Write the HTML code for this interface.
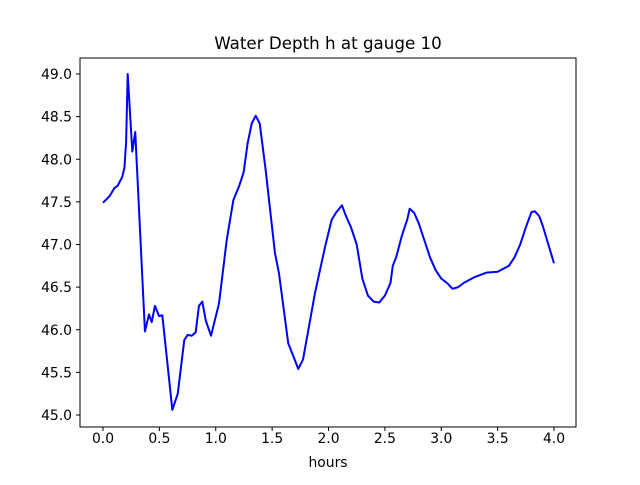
<!DOCTYPE html>
<html><head><meta charset="utf-8"><style>
body{margin:0;background:#fff}
svg{font-family:"DejaVu Sans","Liberation Sans",sans-serif}
</style></head><body>
<svg width="640" height="480" id="c">
<rect width="640" height="480" fill="#fff"/>
<text x="328" y="49" font-size="16.7" text-anchor="middle">Water Depth h at gauge 10</text>
<text x="328" y="467" font-size="13.9" text-anchor="middle">hours</text>
<g id="ticks"></g>
<polyline id="line" fill="none" stroke="#0000ff" stroke-width="2" stroke-linejoin="round"/>
<rect x="80" y="58" width="496" height="369" fill="none" stroke="#000" stroke-width="1"/>
</svg>
<script>
const hours=[0,0.06,0.1,0.13,0.17,0.19,0.205,0.219,0.26,0.286,0.372,0.408,0.432,0.461,0.497,0.526,0.615,0.663,0.721,0.751,0.787,0.822,0.851,0.881,0.911,0.958,1.029,1.097,1.156,1.206,1.248,1.283,1.319,1.354,1.39,1.443,1.525,1.561,1.643,1.694,1.732,1.774,1.88,1.969,2.028,2.07,2.12,2.15,2.2,2.25,2.3,2.35,2.4,2.45,2.5,2.55,2.57,2.6,2.65,2.7,2.72,2.76,2.8,2.85,2.9,2.95,3.0,3.05,3.1,3.15,3.2,3.3,3.4,3.5,3.6,3.65,3.7,3.75,3.8,3.83,3.87,3.9,3.95,4.0];
const depth=[47.49,47.57,47.66,47.69,47.79,47.9,48.2,49.0,48.09,48.32,45.98,46.18,46.09,46.28,46.16,46.17,45.06,45.25,45.88,45.94,45.93,45.97,46.28,46.33,46.11,45.93,46.31,47.05,47.52,47.68,47.85,48.19,48.42,48.51,48.42,47.87,46.9,46.66,45.84,45.67,45.54,45.65,46.43,46.97,47.29,47.38,47.46,47.35,47.2,47.0,46.6,46.4,46.33,46.32,46.4,46.55,46.75,46.85,47.1,47.3,47.42,47.37,47.25,47.05,46.85,46.7,46.6,46.55,46.48,46.5,46.55,46.62,46.67,46.68,46.75,46.85,47.0,47.2,47.38,47.39,47.33,47.22,47.0,46.78];
const xTicks=[0,0.5,1,1.5,2,2.5,3,3.5,4];
const xTickLabels=["0.0","0.5","1.0","1.5","2.0","2.5","3.0","3.5","4.0"];
const yTicks=[45,45.5,46,46.5,47,47.5,48,48.5,49];
const yTickLabels=["45.0","45.5","46.0","46.5","47.0","47.5","48.0","48.5","49.0"];
const X=v=>103+v*112.75, Y=v=>74+(49-v)*85.25;
const NS="http://www.w3.org/2000/svg", g=document.getElementById('ticks');
xTicks.forEach((t,i)=>{
 const l=document.createElementNS(NS,'line');
 l.setAttribute('x1',X(t));l.setAttribute('x2',X(t));l.setAttribute('y1',427);l.setAttribute('y2',431);l.setAttribute('stroke','#000');
 
 
 g.appendChild(l);
 const s=document.createElementNS(NS,'text');
 s.setAttribute('x',X(t));s.setAttribute('y',443);s.setAttribute('font-size','13.9');s.setAttribute('text-anchor','middle');
 s.textContent=xTickLabels[i];
 
 
 g.appendChild(s);
});
yTicks.forEach((t,i)=>{
 const l=document.createElementNS(NS,'line');
 l.setAttribute('x1',76);l.setAttribute('x2',80);l.setAttribute('y1',Y(t));l.setAttribute('y2',Y(t));l.setAttribute('stroke','#000');
 
 
 g.appendChild(l);
 const s=document.createElementNS(NS,'text');
 s.setAttribute('x',72);s.setAttribute('y',Y(t)+5);s.setAttribute('font-size','13.9');s.setAttribute('text-anchor','end');
 s.textContent=yTickLabels[i];
 
 
 g.appendChild(s);
});
document.getElementById('line').setAttribute('points',hours.map((h,i)=>X(h)+','+Y(depth[i])).join(' '));
</script>
</body></html>
